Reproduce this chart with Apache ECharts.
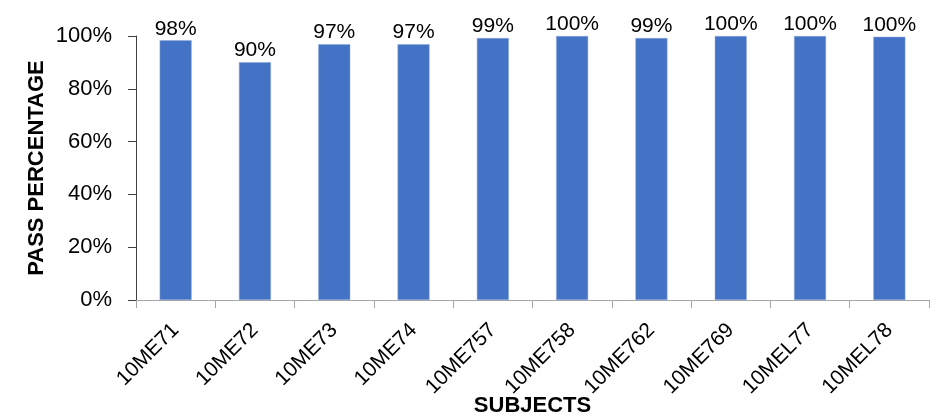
<!DOCTYPE html>
<html><head><meta charset="utf-8">
<script src="https://cdn.jsdelivr.net/npm/echarts@6/dist/echarts.min.js"></script>
<style>html,body{margin:0;padding:0;background:#fff}#c{width:939px;height:419px}</style>
</head><body><div id="c"></div>
<script>
const categories = ['10ME71','10ME72','10ME73','10ME74','10ME757','10ME758','10ME762','10ME769','10MEL77','10MEL78'];
const passPercent = [98.4, 90.1, 96.9, 96.9, 99.2, 100, 99.2, 100, 100, 99.7];
const yTicks = [0, 20, 40, 60, 80, 100];
const FONT = '"Liberation Sans", Arial, sans-serif';
const chart = echarts.init(document.getElementById('c'));
chart.setOption({
  animation: false,
  grid: {left: 136, right: 10, top: 36, bottom: 119, containLabel: false, outerBoundsMode: 'none'},
  xAxis: {
    type: 'category', data: categories,
    name: 'SUBJECTS', nameLocation: 'middle', nameGap: 95, nameMoveOverlap: false,
    nameTextStyle: {fontFamily: FONT, fontWeight: 'bold', fontSize: 22, color: '#000'},
    axisLine: {lineStyle: {color: '#a6a6a6'}},
    axisTick: {show: true, length: 8, lineStyle: {color: '#a6a6a6'}},
    axisLabel: {rotate: 45, margin: 27, fontFamily: FONT, fontSize: 21, color: '#000'}
  },
  yAxis: {
    type: 'value', min: yTicks[0], max: yTicks[yTicks.length-1], interval: 20,
    name: 'PASS PERCENTAGE', nameLocation: 'middle', nameGap: 88, nameRotate: 90, nameMoveOverlap: false,
    nameTextStyle: {fontFamily: FONT, fontWeight: 'bold', fontSize: 22, color: '#000'},
    axisLine: {show: true, lineStyle: {color: '#404040'}},
    axisTick: {show: true, length: 8, lineStyle: {color: '#404040'}},
    splitLine: {show: false},
    axisLabel: {formatter: v => v + '%', margin: 24, fontFamily: FONT, fontSize: 22, color: '#000'}
  },
  series: [{
    type: 'bar', data: passPercent, barWidth: 32,
    itemStyle: {color: '#4472c4', borderColor: '#8eaadb', borderWidth: 0.5},
    label: {show: true, position: 'top', distance: 1, formatter: p => Math.round(p.value) + '%',
      fontFamily: FONT, fontSize: 21, color: '#000'}
  }]
});
</script></body></html>
